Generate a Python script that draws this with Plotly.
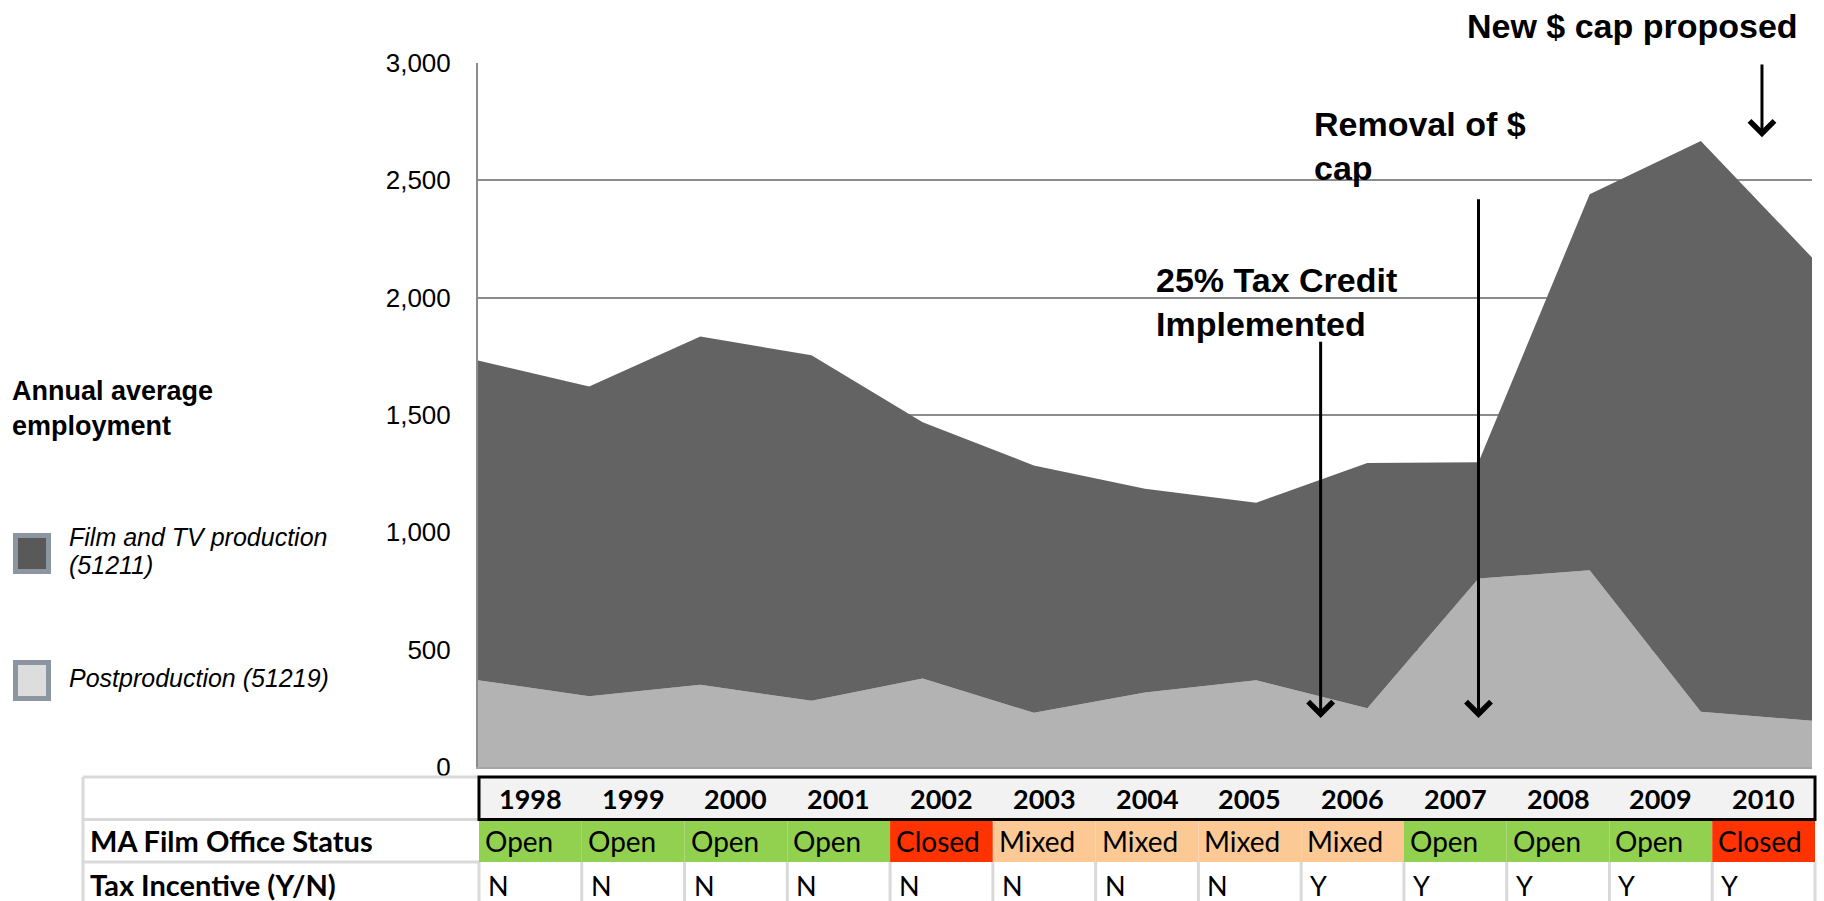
import plotly.graph_objects as go

# ---------------- data ----------------
years = [1998, 1999, 2000, 2001, 2002, 2003, 2004, 2005, 2006, 2007, 2008, 2009, 2010]
film_tv = [1362, 1319, 1484, 1473, 1092, 1054, 868, 756, 1045, 496, 1603, 2433, 1974]
postproduction = [370, 302, 350, 282, 377, 231, 318, 370, 250, 803, 838, 235, 197]
series_names = ["Film and TV production (51211)", "Postproduction (51219)"]
office_status = ["Open", "Open", "Open", "Open", "Closed", "Mixed", "Mixed",
                 "Mixed", "Mixed", "Open", "Open", "Open", "Closed"]
tax_incentive = ["N", "N", "N", "N", "N", "N", "N", "N", "Y", "Y", "Y", "Y", "Y"]
row_labels = ["MA Film Office Status", "Tax Incentive (Y/N)"]
y_ticks = [0, 500, 1000, 1500, 2000, 2500, 3000]
y_title = "Annual average<br>employment"
events = [
    # text, arrow x (year), arrow tail value, arrow tip value
    ("25% Tax Credit<br>Implemented", 2005.58, 1819, 209),
    ("Removal of $<br>cap", 2007.0, 2426, 209),
    ("New $ cap proposed", 2009.55, 3000, 2684),
]

# ---------------- style / geometry ----------------
W, H = 1824, 901
def px(x):
    return x / W
def py(y):
    return 1 - y / H

DARK = "#636363"
LIGHT = "#b3b3b3"
STATUS_COLORS = {"Open": "#92d050", "Closed": "#ff3300", "Mixed": "#fcc995"}
ARIAL = "Liberation Sans, Arial, sans-serif"
CAL = "Lato, Calibri, sans-serif"
GRID = "#8c8c8c"
TBL_GRAY = "#d9d9d9"

fig = go.Figure()
fig.add_trace(go.Scatter(x=years, y=postproduction, stackgroup="emp", mode="none",
                         fillcolor=LIGHT, name=series_names[1], hoverinfo="x+y"))
fig.add_trace(go.Scatter(x=years, y=film_tv, stackgroup="emp", mode="none",
                         fillcolor=DARK, name=series_names[0], hoverinfo="x+y"))

# table axis geometry
CW = (1815 - 479) / len(years)
RH = 42.5
x2_lo = -0.5 - 479 / CW
x2_hi = -0.5 + (W - 479) / CW
y2_top = -0.5 - (777 - 770) / RH
y2_bot = -0.5 + (H - 777) / RH
lab_x0 = -0.5 - (479 - 83) / CW
n = len(years)

fig.update_layout(
    width=W, height=H,
    margin=dict(l=0, r=0, t=0, b=0, pad=0, autoexpand=False),
    paper_bgcolor="white", plot_bgcolor="white",
    showlegend=False,
    xaxis=dict(domain=[px(478), px(1812)], range=[years[0], years[-1]],
               showgrid=False, showticklabels=False, zeroline=False, automargin=False,
               showline=True, linecolor="#a6a6a6", linewidth=1.5, ticks=""),
    yaxis=dict(domain=[py(767), py(63)], range=[0, 3000], tickvals=y_ticks,
               tickformat=",", showgrid=True, gridcolor=GRID, gridwidth=2,
               showline=True, linecolor=GRID, linewidth=2, zeroline=False,
               ticks="", ticklabelstandoff=20, automargin=False,
               tickfont=dict(family=ARIAL, size=26, color="black")),
    xaxis2=dict(domain=[0, 1], anchor="y2", range=[x2_lo, x2_hi], visible=False,
                automargin=False),
    yaxis2=dict(domain=[0, py(770)], anchor="x2", range=[y2_bot, y2_top], visible=False,
                automargin=False),
)

shapes = []
# label column borders
shapes.append(dict(type="line", xref="x2", yref="y2", x0=lab_x0, x1=lab_x0,
                   y0=-0.5, y1=y2_bot, line=dict(color=TBL_GRAY, width=3)))
for yy in (-0.5, 0.5, 1.5):
    shapes.append(dict(type="line", xref="x2", yref="y2", x0=lab_x0, x1=-0.5,
                       y0=yy, y1=yy, line=dict(color=TBL_GRAY, width=3)))
# tax row separators
for i in range(n + 1):
    shapes.append(dict(type="line", xref="x2", yref="y2", x0=i - 0.5, x1=i - 0.5,
                       y0=1.5, y1=y2_bot, line=dict(color=TBL_GRAY, width=3)))
# status cells
for i, s in enumerate(office_status):
    shapes.append(dict(type="rect", xref="x2", yref="y2", x0=i - 0.5, x1=i + 0.5,
                       y0=0.5, y1=1.5, fillcolor=STATUS_COLORS[s], line=dict(width=0)))
# header row
shapes.append(dict(type="rect", xref="x2", yref="y2", x0=-0.5, x1=n - 0.5,
                   y0=-0.5, y1=0.5, fillcolor="#f2f2f2", line=dict(color="black", width=3)))

# legend boxes
shapes.append(dict(type="rect", xref="paper", yref="paper", x0=px(15.5), x1=px(48.5),
                   y0=py(571.5), y1=py(535.5), fillcolor="#595959",
                   line=dict(color="#8b96a0", width=5)))
shapes.append(dict(type="rect", xref="paper", yref="paper", x0=px(15.5), x1=px(48.5),
                   y0=py(698.5), y1=py(662.5), fillcolor="#dddddd",
                   line=dict(color="#8b96a0", width=5)))

ann = []
# table texts
for i, yr in enumerate(years):
    ann.append(dict(xref="x2", yref="y2", x=i, y=0, text=f"<b>{yr}</b>", showarrow=False,
                    xanchor="center", yanchor="middle",
                    font=dict(family=CAL, size=27, color="black")))
for i, s in enumerate(office_status):
    ann.append(dict(xref="x2", yref="y2", x=i - 0.5, y=1, text=s, showarrow=False,
                    xanchor="left", yanchor="middle", xshift=4,
                    font=dict(family=CAL, size=28, color="black")))
for i, t in enumerate(tax_incentive):
    ann.append(dict(xref="x2", yref="y2", x=i - 0.5, y=2.05, text=t, showarrow=False,
                    xanchor="left", yanchor="middle", xshift=7,
                    font=dict(family=CAL, size=27, color="black")))
for r, lab in enumerate(row_labels):
    ann.append(dict(xref="x2", yref="y2", x=lab_x0, y=1 + r + 0.03 * r, text=f"<b>{lab}</b>",
                    showarrow=False, xanchor="left", yanchor="middle", xshift=5,
                    font=dict(family=CAL, size=29, color="black")))

# y title
ann.append(dict(xref="paper", yref="paper", x=px(10), y=py(408), text=f"<b>{y_title}</b>",
                showarrow=False, xanchor="left", yanchor="middle", align="left",
                font=dict(family=ARIAL, size=27, color="black")))

# legend texts
film_a, film_b = series_names[0].rsplit(" ", 1)
ann.append(dict(xref="paper", yref="paper", x=px(67), y=py(537), text=f"<i>{film_a}</i>",
                showarrow=False, xanchor="left", yanchor="middle",
                font=dict(family=ARIAL, size=25, color="black")))
ann.append(dict(xref="paper", yref="paper", x=px(67), y=py(565), text=f"<i>{film_b}</i>",
                showarrow=False, xanchor="left", yanchor="middle",
                font=dict(family=ARIAL, size=25, color="black")))
ann.append(dict(xref="paper", yref="paper", x=px(67), y=py(678), text=f"<i>{series_names[1]}</i>",
                showarrow=False, xanchor="left", yanchor="middle",
                font=dict(family=ARIAL, size=25, color="black")))

# event labels
label_pos = [(1154, 302, "left"), (1312, 146, "left"), (1800, 26, "right")]
for (txt, ex, tail, tip), (lx, ly, anc) in zip(events, label_pos):
    ann.append(dict(xref="paper", yref="paper", x=px(lx), y=py(ly), text=f"<b>{txt}</b>",
                    showarrow=False, xanchor=anc, yanchor="middle", align="left",
                    font=dict(family=ARIAL, size=34, color="black")))
    ann.append(dict(xref="x", yref="y", x=ex, y=tip, ax=ex, ay=tail, axref="x", ayref="y",
                    text="", showarrow=True, arrowhead=4, arrowsize=1.6, arrowwidth=3,
                    arrowcolor="black", standoff=0))

fig.update_layout(shapes=shapes, annotations=ann)
fig.write_html("out.html")
